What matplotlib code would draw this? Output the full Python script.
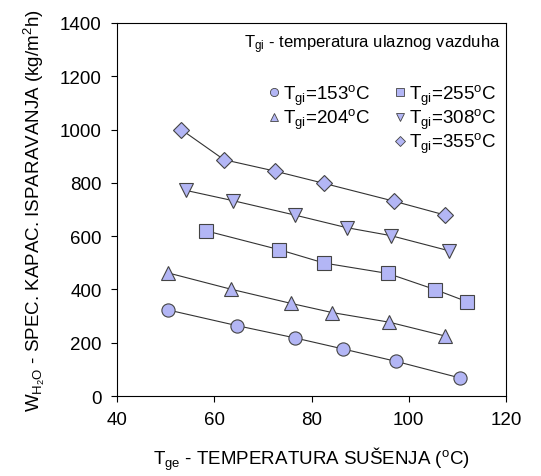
import matplotlib
matplotlib.use("Agg")
from matplotlib import pyplot as plt
from matplotlib.lines import Line2D

plt.rcParams["font.family"] = ["Liberation Sans", "DejaVu Sans"]
plt.rcParams["mathtext.fontset"] = "custom"
plt.rcParams["mathtext.rm"] = "Liberation Sans"
plt.rcParams["mathtext.it"] = "Liberation Sans:italic"

# data
series_labels = ["153", "204", "255", "308", "355"]
markers = ["o", "^", "s", "v", "D"]

x_153 = [50.5, 64.7, 76.6, 86.4, 97.4, 110.5]
y_153 = [323, 264, 218, 177, 130, 68]

x_204 = [50.5, 63.4, 75.7, 84.3, 96.0, 107.5]
y_204 = [462, 401, 348, 313, 277, 225]

x_255 = [58.3, 73.4, 82.6, 95.7, 105.5, 112.0]
y_255 = [620, 549, 499, 460, 399, 354]

x_308 = [54.1, 63.9, 76.6, 87.2, 96.3, 108.3]
y_308 = [772, 733, 679, 632, 602, 545]

x_355 = [53.2, 62.0, 72.5, 82.6, 97.0, 107.5]
y_355 = [1000, 887, 844, 798, 731, 679]

xs = [x_153, x_204, x_255, x_308, x_355]
ys = [y_153, y_204, y_255, y_308, y_355]

FACE = "#b3b6f5"
EDGE = "#444444"

fig = plt.figure(figsize=(5.41, 4.77), dpi=100)
ax = fig.add_axes([0.2163, 0.1677, 0.7190, 0.7820])

handles = []
for x, y, m, lab in zip(xs, ys, markers, series_labels):
    ax.plot(x, y, color="#333333", linewidth=0.8, zorder=1)
    ms = 9.5 if m != "D" else 8
    ax.plot(x, y, linestyle="none", marker=m, markersize=ms,
            markerfacecolor=FACE, markeredgecolor=EDGE, markeredgewidth=0.8, zorder=2)
    handles.append(Line2D([], [], linestyle="none", marker=m, markersize=ms * 0.62,
                          markerfacecolor=FACE, markeredgecolor=EDGE, markeredgewidth=0.6,
                          label=r"$\mathrm{T_{gi}}$=" + lab + r"$^\mathrm{o}$C"))

ax.set_xlim(40, 120)
ax.set_ylim(0, 1400)
ax.set_xticks([40, 60, 80, 100, 120])
ax.set_yticks(range(0, 1401, 200))
ax.tick_params(direction="out", length=4, width=0.8, labelsize=13.5, pad=7)
for s in ax.spines.values():
    s.set_linewidth(0.8)

blank = Line2D([], [], linestyle="none", label=" ")
leg_handles = [handles[0], handles[1], blank, handles[2], handles[3], handles[4]]
ax.legend(handles=leg_handles, ncol=2, frameon=False, loc="upper right",
          bbox_to_anchor=(1.0, 0.865), fontsize=13.5, handlelength=0.5,
          handletextpad=0.25, columnspacing=1.3, labelspacing=0.0,
          borderaxespad=0.1)

ax.text(0.985, 0.975, r"$\mathrm{T_{gi}}$ - temperatura ulaznog vazduha",
        transform=ax.transAxes, ha="right", va="top", fontsize=12)

ax.set_xlabel(r"$\mathrm{T_{ge}}$ - TEMPERATURA SUŠENJA ($^\mathrm{o}$C)", fontsize=13.5, labelpad=12)
ax.set_ylabel(r"$\mathrm{W_{H_2O}}$ - SPEC. KAPAC. ISPARAVANJA (kg/m$^\mathrm{2}$h)",
              fontsize=13.5, labelpad=9)

fig.savefig("out.png", dpi=100)
